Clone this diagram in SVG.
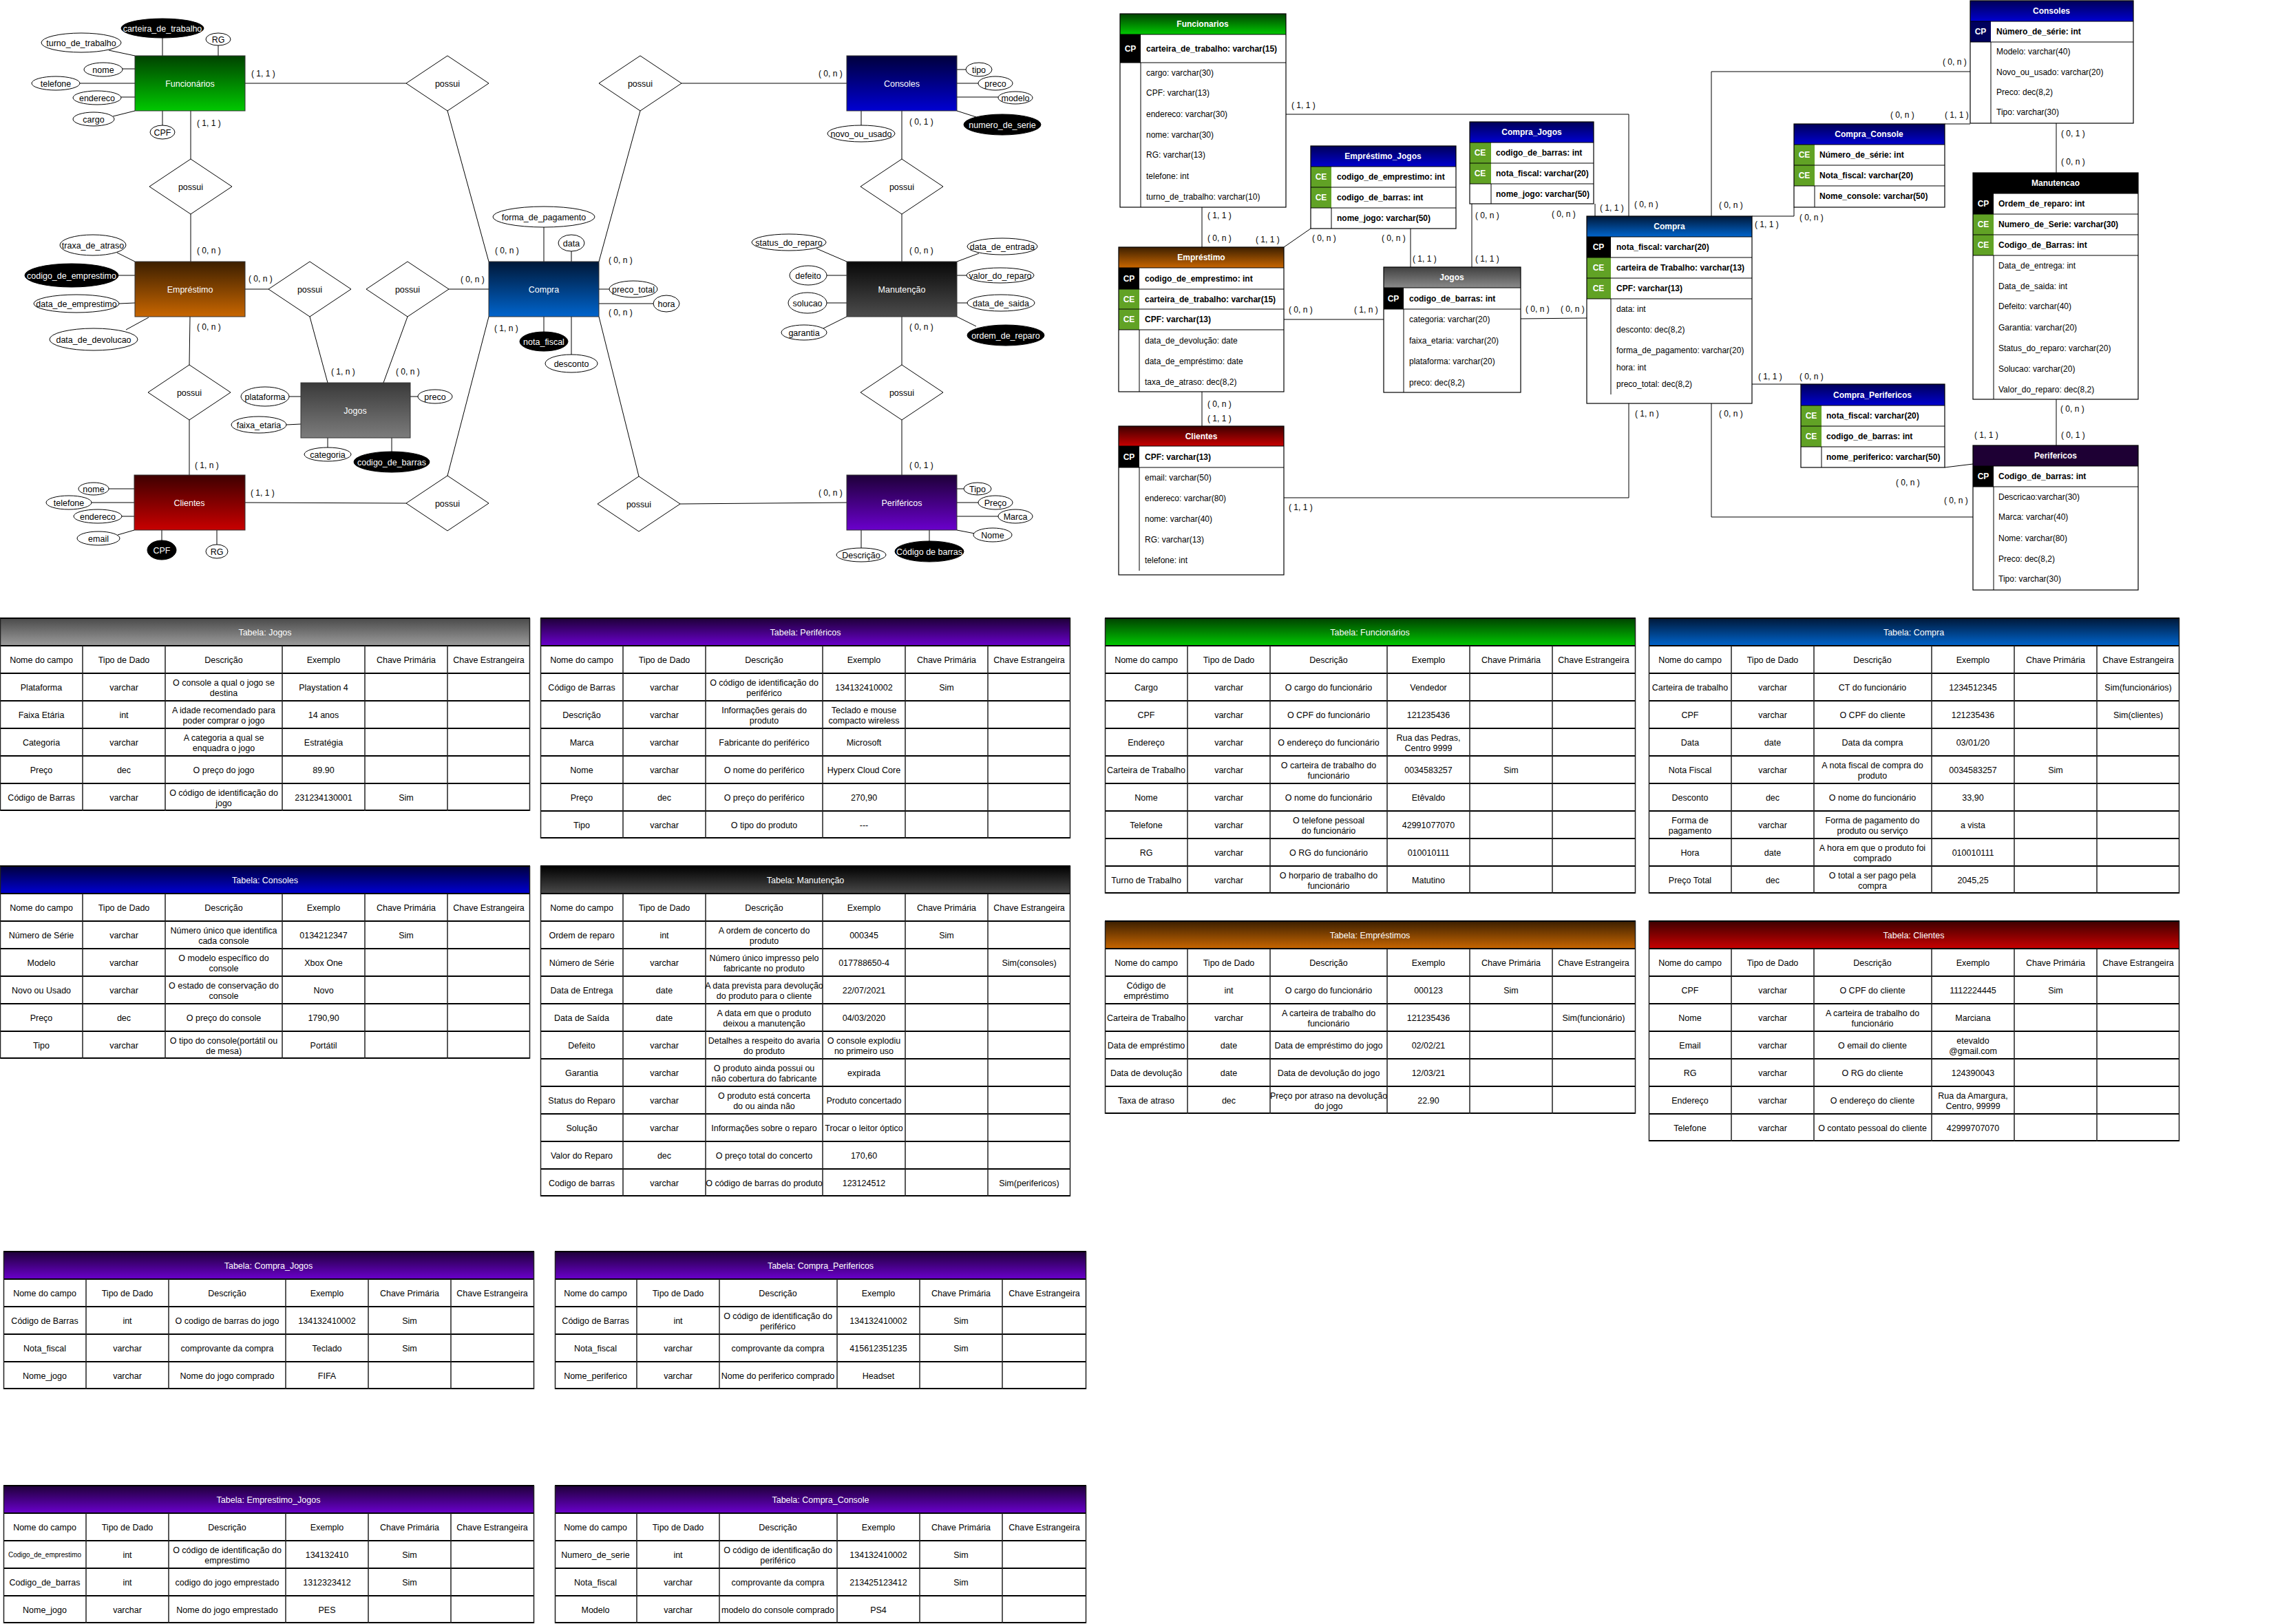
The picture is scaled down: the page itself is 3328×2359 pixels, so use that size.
<svg xmlns="http://www.w3.org/2000/svg" width="3328" height="2359" viewBox="0 0 3328 2359">
<defs>
<linearGradient id="gGreen" x1="0" y1="0" x2="0" y2="1"><stop offset="0" stop-color="#004200"/><stop offset="1" stop-color="#00c800"/></linearGradient>
<linearGradient id="gBrown" x1="0" y1="0" x2="0" y2="1"><stop offset="0" stop-color="#3c1f00"/><stop offset="1" stop-color="#c86600"/></linearGradient>
<linearGradient id="gGray" x1="0" y1="0" x2="0" y2="1"><stop offset="0" stop-color="#3a3a3a"/><stop offset="1" stop-color="#7c7c7c"/></linearGradient>
<linearGradient id="gRed" x1="0" y1="0" x2="0" y2="1"><stop offset="0" stop-color="#3e0000"/><stop offset="1" stop-color="#c80000"/></linearGradient>
<linearGradient id="gCompra" x1="0" y1="0" x2="0" y2="1"><stop offset="0" stop-color="#001838"/><stop offset="1" stop-color="#0064cc"/></linearGradient>
<linearGradient id="gNavy" x1="0" y1="0" x2="0" y2="1"><stop offset="0" stop-color="#00003c"/><stop offset="1" stop-color="#0000d2"/></linearGradient>
<linearGradient id="gBlack" x1="0" y1="0" x2="0" y2="1"><stop offset="0" stop-color="#080808"/><stop offset="1" stop-color="#4c4c4c"/></linearGradient>
<linearGradient id="gPurple" x1="0" y1="0" x2="0" y2="1"><stop offset="0" stop-color="#1e0038"/><stop offset="1" stop-color="#6a00cc"/></linearGradient>
<linearGradient id="hGray" x1="0" y1="0" x2="0" y2="1"><stop offset="0" stop-color="#4a4a4a"/><stop offset="1" stop-color="#9c9c9c"/></linearGradient>
<linearGradient id="hBlack" x1="0" y1="0" x2="0" y2="1"><stop offset="0" stop-color="#000000"/><stop offset="1" stop-color="#4a4a4a"/></linearGradient>
<linearGradient id="sBlue" x1="0" y1="0" x2="0" y2="1"><stop offset="0" stop-color="#000058"/><stop offset="1" stop-color="#0000d0"/></linearGradient>
<linearGradient id="sGray" x1="0" y1="0" x2="0" y2="1"><stop offset="0" stop-color="#404040"/><stop offset="1" stop-color="#8a8a8a"/></linearGradient>
</defs>
<style>
text { font-family: "Liberation Sans", Arial, sans-serif; }
.ent { stroke: #333; stroke-width: 1; }
.et { font-size: 12.5px; fill: #fff; text-anchor: middle; }
.dia { fill: #fff; stroke: #000; stroke-width: 1; }
.at { fill: #fff; stroke: #000; stroke-width: 1; }
.ak { fill: #000; stroke: #000; stroke-width: 1; }
.atx { font-size: 12.5px; fill: #000; text-anchor: middle; }
.aktx { font-size: 12.5px; fill: #fff; text-anchor: middle; }
.ln { stroke: #000; stroke-width: 1; fill: none; }
.card { font-size: 12px; fill: #000; }
.st { font-size: 12px; fill: #000; }
.stb { font-size: 12px; font-weight: bold; fill: #000; }
.sh { font-size: 12px; font-weight: bold; fill: #fff; text-anchor: middle; }
.kc { font-size: 12px; font-weight: bold; fill: #fff; text-anchor: middle; }
.tb { fill: none; stroke: #000; stroke-width: 1.2; }
.tc { font-size: 12.5px; fill: #000; text-anchor: middle; }
.tt { font-size: 12.5px; fill: #fff; text-anchor: middle; }
.hb { stroke: #000; stroke-width: 2; fill: none; }
.vb { stroke: #222; stroke-width: 1.5; fill: none; }
.cp { fill: #000; }
.ce { fill: #61a225; }
</style>
<rect width="3328" height="2359" fill="#fff"/>

<!-- ===== Conceptual model: connectors ===== -->
<g id="er-connectors" class="ln">
<path d="M356 121H590M650 161L710 380M277 161V231M277 311V380M356 420H390M450 460L476 556M652 420H710M592 460L557 556M276 460L275 530M275 610V690M356 730L590 731M650 691L710 460M990 121H1230M930 161L870 380M1310 161V231M1310 311V380M1310 460V530M1310 610V690M988 732L1230 730M928 692L870 460"/>
<!-- attribute links -->
<path d="M236 55V81M317 66V81M158 73L196 81M178 100H196M116 121H196M176 141H196M164 169L196 161M236 161V182"/>
<path d="M170 367L196 380M172 400H196M173 441L196 440M183 479L216 461"/>
<path d="M420 576H437M416 617L437 616M596 576H607M476 636V650M569 636V656"/>
<path d="M158 710H195M133 730H195M177 750H195M171 777L195 770M235 770V785M315 770V791"/>
<path d="M790 330V380M830 365V380M870 420H885M870 441H949M790 460V482M830 460V515"/>
<path d="M1390 101H1403M1390 121H1421M1390 141H1450M1390 161L1418 170M1251 161V182"/>
<path d="M1186 361L1230 380M1201 400H1230M1201 440H1230M1196 477L1230 460M1390 380L1422 368M1390 400H1404M1390 440H1405M1390 460L1418 474"/>
<path d="M1390 710H1400M1390 730H1421M1390 750H1450M1390 770L1416 775M1350 770V786M1251 770V796"/>
</g>

<g id="er-cardinalities" class="card">
<text x="365" y="111">( 1, 1 )</text>
<text x="286" y="183">( 1, 1 )</text>
<text x="286" y="368">( 0, n )</text>
<text x="361" y="409">( 0, n )</text>
<text x="286" y="479">( 0, n )</text>
<text x="481" y="544">( 1, n )</text>
<text x="575" y="544">( 0, n )</text>
<text x="669" y="410">( 0, n )</text>
<text x="283" y="680">( 1, n )</text>
<text x="364" y="720">( 1, 1 )</text>
<text x="719" y="368">( 0, n )</text>
<text x="718" y="481">( 1, n )</text>
<text x="884" y="382">( 0, n )</text>
<text x="884" y="458">( 0, n )</text>
<text x="1189" y="111">( 0, n )</text>
<text x="1321" y="181">( 0, 1 )</text>
<text x="1321" y="368">( 0, n )</text>
<text x="1321" y="479">( 0, n )</text>
<text x="1321" y="680">( 0, 1 )</text>
<text x="1189" y="720">( 0, n )</text>
</g>

<!-- relationships -->
<g id="rel-func-compra"><polygon class="dia" points="590,121 650,81 710,121 650,161"/><text class="atx" x="650" y="126">possui</text></g>
<g id="rel-func-emp"><polygon class="dia" points="217,271 277,231 337,271 277,311"/><text class="atx" x="277" y="276">possui</text></g>
<g id="rel-emp-jogos"><polygon class="dia" points="390,420 450,380 510,420 450,460"/><text class="atx" x="450" y="425">possui</text></g>
<g id="rel-jogos-compra"><polygon class="dia" points="532,420 592,380 652,420 592,460"/><text class="atx" x="592" y="425">possui</text></g>
<g id="rel-emp-clientes"><polygon class="dia" points="215,570 275,530 335,570 275,610"/><text class="atx" x="275" y="575">possui</text></g>
<g id="rel-clientes-compra"><polygon class="dia" points="590,731 650,691 710,731 650,771"/><text class="atx" x="650" y="736">possui</text></g>
<g id="rel-compra-consoles"><polygon class="dia" points="870,121 930,81 990,121 930,161"/><text class="atx" x="930" y="126">possui</text></g>
<g id="rel-consoles-manut"><polygon class="dia" points="1250,271 1310,231 1370,271 1310,311"/><text class="atx" x="1310" y="276">possui</text></g>
<g id="rel-manut-perif"><polygon class="dia" points="1250,570 1310,530 1370,570 1310,610"/><text class="atx" x="1310" y="575">possui</text></g>
<g id="rel-compra-perif"><polygon class="dia" points="868,732 928,692 988,732 928,772"/><text class="atx" x="928" y="737">possui</text></g>

<!-- entities with attributes -->
<g id="ent-funcionarios">
<rect class="ent" x="196" y="81" width="160" height="80" fill="url(#gGreen)"/>
<text class="et" x="276" y="125.5">Funcionários</text>
<ellipse class="ak" cx="236" cy="41" rx="60" ry="14"/><text class="aktx" x="236" y="45.5">carteira_de_trabalho</text>
<ellipse class="at" cx="317" cy="57" rx="18" ry="9"/><text class="atx" x="317" y="61.5">RG</text>
<ellipse class="at" cx="118" cy="62" rx="58" ry="14"/><text class="atx" x="118" y="66.5">turno_de_trabalho</text>
<ellipse class="at" cx="150" cy="101" rx="28" ry="10"/><text class="atx" x="150" y="105.5">nome</text>
<ellipse class="at" cx="81" cy="121" rx="35" ry="10"/><text class="atx" x="81" y="125.5">telefone</text>
<ellipse class="at" cx="141" cy="142" rx="35" ry="10"/><text class="atx" x="141" y="146.5">endereco</text>
<ellipse class="at" cx="136" cy="173" rx="30" ry="10"/><text class="atx" x="136" y="177.5">cargo</text>
<ellipse class="at" cx="236" cy="192" rx="18" ry="10"/><text class="atx" x="236" y="196.5">CPF</text>
</g>

<g id="ent-emprestimo">
<rect class="ent" x="196" y="380" width="160" height="80" fill="url(#gBrown)"/>
<text class="et" x="276" y="424.5">Empréstimo</text>
<ellipse class="at" cx="135" cy="356" rx="48" ry="15"/><text class="atx" x="135" y="360.5">traxa_de_atraso</text>
<ellipse class="ak" cx="104" cy="400" rx="68" ry="17"/><text class="aktx" x="104" y="404.5">codigo_de_emprestimo</text>
<ellipse class="at" cx="111" cy="441" rx="62" ry="13"/><text class="atx" x="111" y="445.5">data_de_emprestimo</text>
<ellipse class="at" cx="136" cy="493" rx="64" ry="16"/><text class="atx" x="136" y="497.5">data_de_devolucao</text>
</g>

<g id="ent-jogos">
<rect class="ent" x="437" y="556" width="159" height="80" fill="url(#gGray)"/>
<text class="et" x="516" y="600.5">Jogos</text>
<ellipse class="at" cx="385" cy="576" rx="35" ry="14"/><text class="atx" x="385" y="580.5">plataforma</text>
<ellipse class="at" cx="376" cy="617" rx="40" ry="12"/><text class="atx" x="376" y="621.5">faixa_etaria</text>
<ellipse class="at" cx="632" cy="576" rx="25" ry="10"/><text class="atx" x="632" y="580.5">preco</text>
<ellipse class="at" cx="476" cy="660" rx="34" ry="10"/><text class="atx" x="476" y="664.5">categoria</text>
<ellipse class="ak" cx="569" cy="671" rx="55" ry="15"/><text class="aktx" x="569" y="675.5">codigo_de_barras</text>
</g>

<g id="ent-clientes">
<rect class="ent" x="195" y="690" width="161" height="80" fill="url(#gRed)"/>
<text class="et" x="275" y="734.5">Clientes</text>
<ellipse class="at" cx="136" cy="710" rx="22" ry="9"/><text class="atx" x="136" y="714.5">nome</text>
<ellipse class="at" cx="100" cy="730" rx="33" ry="10"/><text class="atx" x="100" y="734.5">telefone</text>
<ellipse class="at" cx="142" cy="750" rx="35" ry="10"/><text class="atx" x="142" y="754.5">endereco</text>
<ellipse class="at" cx="143" cy="782" rx="31" ry="10"/><text class="atx" x="143" y="786.5">email</text>
<ellipse class="ak" cx="235" cy="799" rx="21" ry="14"/><text class="aktx" x="235" y="803.5">CPF</text>
<ellipse class="at" cx="315" cy="801" rx="16" ry="10"/><text class="atx" x="315" y="805.5">RG</text>
</g>

<g id="ent-compra">
<rect class="ent" x="710" y="380" width="160" height="80" fill="url(#gCompra)"/>
<text class="et" x="790" y="424.5">Compra</text>
<ellipse class="at" cx="790" cy="315" rx="74" ry="15"/><text class="atx" x="790" y="319.5">forma_de_pagamento</text>
<ellipse class="at" cx="830" cy="353" rx="19" ry="12"/><text class="atx" x="830" y="357.5">data</text>
<ellipse class="at" cx="920" cy="420" rx="35" ry="12"/><text class="atx" x="920" y="424.5">preco_total</text>
<ellipse class="at" cx="968" cy="441" rx="19" ry="12"/><text class="atx" x="968" y="445.5">hora</text>
<ellipse class="ak" cx="790" cy="496" rx="35" ry="14"/><text class="aktx" x="790" y="500.5">nota_fiscal</text>
<ellipse class="at" cx="830" cy="528" rx="38" ry="13"/><text class="atx" x="830" y="532.5">desconto</text>
</g>

<g id="ent-consoles">
<rect class="ent" x="1230" y="81" width="160" height="80" fill="url(#gNavy)"/>
<text class="et" x="1310" y="125.5">Consoles</text>
<ellipse class="at" cx="1422" cy="101" rx="19" ry="10"/><text class="atx" x="1422" y="105.5">tipo</text>
<ellipse class="at" cx="1446" cy="121" rx="25" ry="10"/><text class="atx" x="1446" y="125.5">preco</text>
<ellipse class="at" cx="1475" cy="142" rx="25" ry="9"/><text class="atx" x="1475" y="146.5">modelo</text>
<ellipse class="ak" cx="1456" cy="181" rx="56" ry="15"/><text class="aktx" x="1456" y="185.5">numero_de_serie</text>
<ellipse class="at" cx="1251" cy="194" rx="49" ry="12"/><text class="atx" x="1251" y="198.5">novo_ou_usado</text>
</g>

<g id="ent-manutencao">
<rect class="ent" x="1230" y="380" width="160" height="80" fill="url(#gBlack)"/>
<text class="et" x="1310" y="424.5">Manutenção</text>
<ellipse class="at" cx="1146" cy="352" rx="54" ry="12"/><text class="atx" x="1146" y="356.5">status_do_reparo</text>
<ellipse class="at" cx="1174" cy="400" rx="27" ry="14"/><text class="atx" x="1174" y="404.5">defeito</text>
<ellipse class="at" cx="1173" cy="440" rx="28" ry="15"/><text class="atx" x="1173" y="444.5">solucao</text>
<ellipse class="at" cx="1168" cy="483" rx="33" ry="11"/><text class="atx" x="1168" y="487.5">garantia</text>
<ellipse class="at" cx="1456" cy="358" rx="51" ry="12"/><text class="atx" x="1456" y="362.5">data_de_entrada</text>
<ellipse class="at" cx="1453" cy="400" rx="49" ry="11"/><text class="atx" x="1453" y="404.5">valor_do_reparo</text>
<ellipse class="at" cx="1454" cy="440" rx="49" ry="12"/><text class="atx" x="1454" y="444.5">data_de_saida</text>
<ellipse class="ak" cx="1461" cy="487" rx="56" ry="15"/><text class="aktx" x="1461" y="491.5">ordem_de_reparo</text>
</g>

<g id="ent-perifericos">
<rect class="ent" x="1230" y="690" width="160" height="80" fill="url(#gPurple)"/>
<text class="et" x="1310" y="734.5">Periféricos</text>
<ellipse class="at" cx="1420" cy="710" rx="20" ry="9"/><text class="atx" x="1420" y="714.5">Tipo</text>
<ellipse class="at" cx="1446" cy="730" rx="25" ry="10"/><text class="atx" x="1446" y="734.5">Preço</text>
<ellipse class="at" cx="1475" cy="750" rx="25" ry="10"/><text class="atx" x="1475" y="754.5">Marca</text>
<ellipse class="at" cx="1442" cy="777" rx="28" ry="10"/><text class="atx" x="1442" y="781.5">Nome</text>
<ellipse class="ak" cx="1350" cy="801" rx="50" ry="15"/><text class="aktx" x="1350" y="805.5">Código de barras</text>
<ellipse class="at" cx="1251" cy="806" rx="36" ry="10"/><text class="atx" x="1251" y="810.5">Descrição</text>
</g>

<!-- ===== Relational model: connectors ===== -->
<g id="rel-connectors" class="ln">
<path d="M1868 166H2366V314M1865 723H2366V586M1746 301V359M1746 569V619M1865 359L1904 332M2049 332V388M2138 296V388M2317 296V314M1865 464H2010M2209 463L2305 462M2486 314V104H2862M2545 314H2606V301M2825 180H2862M2987 179V251M2987 580V647M2545 558H2616M2825 679L2866 674M2486 586V751H2866"/>
</g>
<g id="rel-cardinalities" class="card">
<text x="1876" y="157">( 1, 1 )</text>
<text x="1754" y="317">( 1, 1 )</text>
<text x="1754" y="350">( 0, n )</text>
<text x="1824" y="352">( 1, 1 )</text>
<text x="1906" y="350">( 0, n )</text>
<text x="2007" y="350">( 0, n )</text>
<text x="2052" y="380">( 1, 1 )</text>
<text x="2143" y="317">( 0, n )</text>
<text x="2143" y="380">( 1, 1 )</text>
<text x="2254" y="315">( 0, n )</text>
<text x="2324" y="306">( 1, 1 )</text>
<text x="2374" y="301">( 0, n )</text>
<text x="1872" y="454">( 0, n )</text>
<text x="1967" y="454">( 1, n )</text>
<text x="2216" y="453">( 0, n )</text>
<text x="2267" y="453">( 0, n )</text>
<text x="1754" y="591">( 0, n )</text>
<text x="1754" y="612">( 1, 1 )</text>
<text x="1872" y="741">( 1, 1 )</text>
<text x="2375" y="605">( 1, n )</text>
<text x="2497" y="302">( 0, n )</text>
<text x="2822" y="94">( 0, n )</text>
<text x="2746" y="171">( 0, n )</text>
<text x="2825" y="171">( 1, 1 )</text>
<text x="2549" y="330">( 1, 1 )</text>
<text x="2614" y="320">( 0, n )</text>
<text x="2994" y="198">( 0, 1 )</text>
<text x="2994" y="239">( 0, n )</text>
<text x="2554" y="551">( 1, 1 )</text>
<text x="2614" y="551">( 0, n )</text>
<text x="2993" y="598">( 0, n )</text>
<text x="2994" y="636">( 0, 1 )</text>
<text x="2868" y="636">( 1, 1 )</text>
<text x="2754" y="705">( 0, n )</text>
<text x="2497" y="605">( 0, n )</text>
<text x="2824" y="731">( 0, n )</text>
</g>

<g id="rt-funcionarios">
<rect x="1627" y="20" width="241" height="30" fill="url(#gGreen)"/>
<text class="sh" x="1747" y="39">Funcionarios</text>
<rect class="cp" x="1627" y="50" width="30" height="41"/>
<text class="kc" x="1642" y="75">CP</text>
<text class="stb" x="1665" y="75">carteira_de_trabalho: varchar(15)</text>
<rect class="tb" x="1627" y="20" width="241" height="281"/>
<path class="ln" d="M1627 50H1868M1627 91H1868M1657 91V301"/>
<text class="st" x="1665" y="110">cargo: varchar(30)</text>
<text class="st" x="1665" y="139">CPF: varchar(13)</text>
<text class="st" x="1665" y="170">endereco: varchar(30)</text>
<text class="st" x="1665" y="200">nome: varchar(30)</text>
<text class="st" x="1665" y="229">RG: varchar(13)</text>
<text class="st" x="1665" y="260">telefone: int</text>
<text class="st" x="1665" y="290">turno_de_trabalho: varchar(10)</text>
</g>

<g id="rt-emprestimo">
<rect x="1625" y="359" width="240" height="30" fill="url(#gBrown)"/>
<text class="sh" x="1745" y="378">Empréstimo</text>
<rect class="cp" x="1625" y="389" width="30" height="31"/>
<rect class="ce" x="1625" y="420" width="30" height="59"/>
<text class="kc" x="1640" y="409">CP</text>
<text class="kc" x="1640" y="439">CE</text>
<text class="kc" x="1640" y="468">CE</text>
<text class="stb" x="1663" y="409">codigo_de_emprestimo: int</text>
<text class="stb" x="1663" y="439">carteira_de_trabalho: varchar(15)</text>
<text class="stb" x="1663" y="468">CPF: varchar(13)</text>
<rect class="tb" x="1625" y="359" width="240" height="210"/>
<path class="ln" d="M1625 389H1865M1625 420H1865M1625 449H1865M1625 479H1865M1655 479V569"/>
<text class="st" x="1663" y="499">data_de_devolução: date</text>
<text class="st" x="1663" y="529">data_de_empréstimo: date</text>
<text class="st" x="1663" y="559">taxa_de_atraso: dec(8,2)</text>
</g>

<g id="rt-clientes">
<rect x="1625" y="619" width="240" height="29" fill="url(#gRed)"/>
<text class="sh" x="1745" y="638">Clientes</text>
<rect class="cp" x="1625" y="648" width="30" height="31"/>
<text class="kc" x="1640" y="668">CP</text>
<text class="stb" x="1663" y="668">CPF: varchar(13)</text>
<rect class="tb" x="1625" y="619" width="240" height="216"/>
<path class="ln" d="M1625 648H1865M1625 679H1865M1655 679V829"/>
<text class="st" x="1663" y="698">email: varchar(50)</text>
<text class="st" x="1663" y="728">endereco: varchar(80)</text>
<text class="st" x="1663" y="758">nome: varchar(40)</text>
<text class="st" x="1663" y="788">RG: varchar(13)</text>
<text class="st" x="1663" y="818">telefone: int</text>
</g>

<g id="rt-emprestimo-jogos">
<rect x="1904" y="212" width="211" height="30" fill="url(#sBlue)"/>
<text class="sh" x="2009" y="231">Empréstimo_Jogos</text>
<rect class="ce" x="1904" y="242" width="30" height="60"/>
<text class="kc" x="1919" y="261">CE</text>
<text class="kc" x="1919" y="291">CE</text>
<text class="stb" x="1942" y="261">codigo_de_emprestimo: int</text>
<text class="stb" x="1942" y="291">codigo_de_barras: int</text>
<text class="stb" x="1942" y="321">nome_jogo: varchar(50)</text>
<rect class="tb" x="1904" y="212" width="211" height="120"/>
<path class="ln" d="M1904 242H2115M1904 272H2115M1904 302H2115M1934 302V332"/>
</g>

<g id="rt-compra-jogos">
<rect x="2135" y="177" width="180" height="30" fill="url(#sBlue)"/>
<text class="sh" x="2225" y="196">Compra_Jogos</text>
<rect class="ce" x="2135" y="207" width="31" height="60"/>
<text class="kc" x="2150" y="226">CE</text>
<text class="kc" x="2150" y="256">CE</text>
<text class="stb" x="2173" y="226">codigo_de_barras: int</text>
<text class="stb" x="2173" y="256">nota_fiscal: varchar(20)</text>
<text class="stb" x="2173" y="286">nome_jogo: varchar(50)</text>
<rect class="tb" x="2135" y="177" width="180" height="119"/>
<path class="ln" d="M2135 207H2315M2135 237H2315M2135 267H2315M2166 267V296"/>
</g>

<g id="rt-jogos">
<rect x="2010" y="388" width="199" height="30" fill="url(#sGray)"/>
<text class="sh" x="2109" y="407">Jogos</text>
<rect class="cp" x="2010" y="418" width="29" height="31"/>
<text class="kc" x="2024" y="438">CP</text>
<text class="stb" x="2047" y="438">codigo_de_barras: int</text>
<rect class="tb" x="2010" y="388" width="199" height="182"/>
<path class="ln" d="M2010 418H2209M2010 449H2209M2039 449V570"/>
<text class="st" x="2047" y="468">categoria: varchar(20)</text>
<text class="st" x="2047" y="499">faixa_etaria: varchar(20)</text>
<text class="st" x="2047" y="529">plataforma: varchar(20)</text>
<text class="st" x="2047" y="560">preco: dec(8,2)</text>
</g>

<g id="rt-compra">
<rect x="2305" y="314" width="240" height="30" fill="url(#gCompra)"/>
<text class="sh" x="2425" y="333">Compra</text>
<rect class="cp" x="2305" y="344" width="35" height="30"/>
<rect class="ce" x="2305" y="374" width="35" height="60"/>
<text class="kc" x="2322" y="363">CP</text>
<text class="kc" x="2322" y="393">CE</text>
<text class="kc" x="2322" y="423">CE</text>
<text class="stb" x="2348" y="363">nota_fiscal: varchar(20)</text>
<text class="stb" x="2348" y="393">carteira de Trabalho: varchar(13)</text>
<text class="stb" x="2348" y="423">CPF: varchar(13)</text>
<rect class="tb" x="2305" y="314" width="240" height="272"/>
<path class="ln" d="M2305 344H2545M2305 374H2545M2305 404H2545M2305 434H2545M2340 434V573"/>
<text class="st" x="2348" y="453">data: int</text>
<text class="st" x="2348" y="483">desconto:  dec(8,2)</text>
<text class="st" x="2348" y="513">forma_de_pagamento:  varchar(20)</text>
<text class="st" x="2348" y="538">hora: int</text>
<text class="st" x="2348" y="562">preco_total: dec(8,2)</text>
</g>

<g id="rt-consoles">
<rect x="2862" y="1" width="237" height="30" fill="url(#sBlue)"/>
<text class="sh" x="2980" y="20">Consoles</text>
<rect x="2862" y="31" width="30" height="30" fill="#00005c"/>
<text class="kc" x="2877" y="50">CP</text>
<text class="stb" x="2900" y="50">Número_de_série: int</text>
<rect class="tb" x="2862" y="1" width="237" height="178"/>
<path class="ln" d="M2862 31H3099M2862 61H3099M2892 61V179"/>
<text class="st" x="2900" y="79">Modelo: varchar(40)</text>
<text class="st" x="2900" y="109">Novo_ou_usado: varchar(20)</text>
<text class="st" x="2900" y="138">Preco: dec(8,2)</text>
<text class="st" x="2900" y="167">Tipo: varchar(30)</text>
</g>

<g id="rt-compra-console">
<rect x="2606" y="180" width="219" height="30" fill="url(#sBlue)"/>
<text class="sh" x="2715" y="199">Compra_Console</text>
<rect class="ce" x="2606" y="210" width="30" height="60"/>
<text class="kc" x="2621" y="229">CE</text>
<text class="kc" x="2621" y="259">CE</text>
<text class="stb" x="2643" y="229">Número_de_série: int</text>
<text class="stb" x="2643" y="259">Nota_fiscal: varchar(20)</text>
<text class="stb" x="2643" y="289">Nome_console: varchar(50)</text>
<rect class="tb" x="2606" y="180" width="219" height="121"/>
<path class="ln" d="M2606 210H2825M2606 240H2825M2606 270H2825M2636 270V301"/>
</g>

<g id="rt-manutencao">
<rect x="2866" y="251" width="240" height="30" fill="#000"/>
<text class="sh" x="2986" y="270">Manutencao</text>
<rect class="cp" x="2866" y="281" width="30" height="30"/>
<rect class="ce" x="2866" y="311" width="30" height="60"/>
<text class="kc" x="2881" y="300">CP</text>
<text class="kc" x="2881" y="330">CE</text>
<text class="kc" x="2881" y="360">CE</text>
<text class="stb" x="2903" y="300">Ordem_de_reparo: int</text>
<text class="stb" x="2903" y="330">Numero_de_Serie: varchar(30)</text>
<text class="stb" x="2903" y="360">Codigo_de_Barras: int</text>
<rect class="tb" x="2866" y="251" width="240" height="329"/>
<path class="ln" d="M2866 281H3106M2866 311H3106M2866 341H3106M2866 371H3106M2896 371V580"/>
<text class="st" x="2903" y="390">Data_de_entrega: int</text>
<text class="st" x="2903" y="420">Data_de_saida: int</text>
<text class="st" x="2903" y="449">Defeito: varchar(40)</text>
<text class="st" x="2903" y="480">Garantia: varchar(20)</text>
<text class="st" x="2903" y="510">Status_do_reparo: varchar(20)</text>
<text class="st" x="2903" y="540">Solucao: varchar(20)</text>
<text class="st" x="2903" y="570">Valor_do_reparo: dec(8,2)</text>
</g>

<g id="rt-compra-perifericos">
<rect x="2616" y="558" width="209" height="31" fill="url(#sBlue)"/>
<text class="sh" x="2720" y="578">Compra_Perifericos</text>
<rect class="ce" x="2616" y="589" width="30" height="60"/>
<text class="kc" x="2631" y="608">CE</text>
<text class="kc" x="2631" y="638">CE</text>
<text class="stb" x="2653" y="608">nota_fiscal: varchar(20)</text>
<text class="stb" x="2653" y="638">codigo_de_barras: int</text>
<text class="stb" x="2653" y="668">nome_periferico: varchar(50)</text>
<rect class="tb" x="2616" y="558" width="209" height="121"/>
<path class="ln" d="M2616 589H2825M2616 619H2825M2616 649H2825M2646 649V679"/>
</g>

<g id="rt-perifericos">
<rect x="2866" y="647" width="240" height="30" fill="#1e0034"/>
<text class="sh" x="2986" y="666">Perifericos</text>
<rect class="cp" x="2866" y="677" width="30" height="30"/>
<text class="kc" x="2881" y="696">CP</text>
<text class="stb" x="2903" y="696">Codigo_de_barras: int</text>
<rect class="tb" x="2866" y="647" width="240" height="210"/>
<path class="ln" d="M2866 677H3106M2866 707H3106M2896 707V857"/>
<text class="st" x="2903" y="726">Descricao:varchar(30)</text>
<text class="st" x="2903" y="755">Marca: varchar(40)</text>
<text class="st" x="2903" y="786">Nome: varchar(80)</text>
<text class="st" x="2903" y="816">Preco: dec(8,2)</text>
<text class="st" x="2903" y="845">Tipo: varchar(30)</text>
</g>

<!-- ===== Data dictionary tables ===== -->
<g id="tab-jogos">
<rect x="0" y="898" width="770" height="40" fill="url(#hGray)"/>
<text class="tt" x="385" y="922.5">Tabela: Jogos</text>
<path class="hb" d="M0 898H770M0 938H770M0 978H770M0 1018H770M0 1058H770M0 1098H770M0 1138H770M0 1177H770"/>
<path class="vb" d="M0.5 898V1178M120 938V1178M240 938V1178M410 938V1178M530 938V1178M650 938V1178M769.5 898V1178"/>
<text class="tc" x="60" y="962.5">Nome do campo</text><text class="tc" x="180" y="962.5">Tipo de Dado</text><text class="tc" x="325" y="962.5">Descrição</text><text class="tc" x="470" y="962.5">Exemplo</text><text class="tc" x="590" y="962.5">Chave Primária</text><text class="tc" x="710" y="962.5">Chave Estrangeira</text>
<text class="tc" x="60" y="1002.5">Plataforma</text><text class="tc" x="180" y="1002.5">varchar</text><text class="tc" x="325" y="995.5">O console a qual o jogo se<tspan x="325" dy="15">destina</tspan></text><text class="tc" x="470" y="1002.5">Playstation 4</text>
<text class="tc" x="60" y="1042.5">Faixa Etária</text><text class="tc" x="180" y="1042.5">int</text><text class="tc" x="325" y="1035.5">A idade recomendado para<tspan x="325" dy="15">poder comprar o jogo</tspan></text><text class="tc" x="470" y="1042.5">14 anos</text>
<text class="tc" x="60" y="1082.5">Categoria</text><text class="tc" x="180" y="1082.5">varchar</text><text class="tc" x="325" y="1075.5">A categoria a qual se<tspan x="325" dy="15">enquadra o jogo</tspan></text><text class="tc" x="470" y="1082.5">Estratégia</text>
<text class="tc" x="60" y="1122.5">Preço</text><text class="tc" x="180" y="1122.5">dec</text><text class="tc" x="325" y="1122.5">O preço do jogo</text><text class="tc" x="470" y="1122.5">89.90</text>
<text class="tc" x="60" y="1162.5">Código de Barras</text><text class="tc" x="180" y="1162.5">varchar</text><text class="tc" x="325" y="1155.5">O código de identificação do<tspan x="325" dy="15">jogo</tspan></text><text class="tc" x="470" y="1162.5">231234130001</text><text class="tc" x="590" y="1162.5">Sim</text>
</g>

<g id="tab-perifericos">
<rect x="785" y="898" width="770" height="40" fill="url(#gPurple)"/>
<text class="tt" x="1170" y="922.5">Tabela: Periféricos</text>
<path class="hb" d="M785 898H1555M785 938H1555M785 978H1555M785 1018H1555M785 1058H1555M785 1098H1555M785 1138H1555M785 1178H1555M785 1217H1555"/>
<path class="vb" d="M785.5 898V1218M905 938V1218M1025 938V1218M1195 938V1218M1315 938V1218M1435 938V1218M1554.5 898V1218"/>
<text class="tc" x="845" y="962.5">Nome do campo</text><text class="tc" x="965" y="962.5">Tipo de Dado</text><text class="tc" x="1110" y="962.5">Descrição</text><text class="tc" x="1255" y="962.5">Exemplo</text><text class="tc" x="1375" y="962.5">Chave Primária</text><text class="tc" x="1495" y="962.5">Chave Estrangeira</text>
<text class="tc" x="845" y="1002.5">Código de Barras</text><text class="tc" x="965" y="1002.5">varchar</text><text class="tc" x="1110" y="995.5">O código de identificação do<tspan x="1110" dy="15">periférico</tspan></text><text class="tc" x="1255" y="1002.5">134132410002</text><text class="tc" x="1375" y="1002.5">Sim</text>
<text class="tc" x="845" y="1042.5">Descrição</text><text class="tc" x="965" y="1042.5">varchar</text><text class="tc" x="1110" y="1035.5">Informações gerais do<tspan x="1110" dy="15">produto</tspan></text><text class="tc" x="1255" y="1035.5">Teclado e mouse<tspan x="1255" dy="15">compacto wireless</tspan></text>
<text class="tc" x="845" y="1082.5">Marca</text><text class="tc" x="965" y="1082.5">varchar</text><text class="tc" x="1110" y="1082.5">Fabricante do periférico</text><text class="tc" x="1255" y="1082.5">Microsoft</text>
<text class="tc" x="845" y="1122.5">Nome</text><text class="tc" x="965" y="1122.5">varchar</text><text class="tc" x="1110" y="1122.5">O nome do periférico</text><text class="tc" x="1255" y="1122.5">Hyperx Cloud Core</text>
<text class="tc" x="845" y="1162.5">Preço</text><text class="tc" x="965" y="1162.5">dec</text><text class="tc" x="1110" y="1162.5">O preço do periférico</text><text class="tc" x="1255" y="1162.5">270,90</text>
<text class="tc" x="845" y="1202.5">Tipo</text><text class="tc" x="965" y="1202.5">varchar</text><text class="tc" x="1110" y="1202.5">O tipo do produto</text><text class="tc" x="1255" y="1202.5">---</text>
</g>

<g id="tab-funcionarios">
<rect x="1605" y="898" width="771" height="40" fill="url(#gGreen)"/>
<text class="tt" x="1990" y="922.5">Tabela: Funcionários</text>
<path class="hb" d="M1605 898H2376M1605 938H2376M1605 978H2376M1605 1018H2376M1605 1058H2376M1605 1098H2376M1605 1138H2376M1605 1178H2376M1605 1218H2376M1605 1258H2376M1605 1297H2376"/>
<path class="vb" d="M1605.5 898V1298M1725 938V1298M1845 938V1298M2015 938V1298M2135 938V1298M2255 938V1298M2375.5 898V1298"/>
<text class="tc" x="1665" y="962.5">Nome do campo</text><text class="tc" x="1785" y="962.5">Tipo de Dado</text><text class="tc" x="1930" y="962.5">Descrição</text><text class="tc" x="2075" y="962.5">Exemplo</text><text class="tc" x="2195" y="962.5">Chave Primária</text><text class="tc" x="2315" y="962.5">Chave Estrangeira</text>
<text class="tc" x="1665" y="1002.5">Cargo</text><text class="tc" x="1785" y="1002.5">varchar</text><text class="tc" x="1930" y="1002.5">O cargo do funcionário</text><text class="tc" x="2075" y="1002.5">Vendedor</text>
<text class="tc" x="1665" y="1042.5">CPF</text><text class="tc" x="1785" y="1042.5">varchar</text><text class="tc" x="1930" y="1042.5">O CPF do funcionário</text><text class="tc" x="2075" y="1042.5">121235436</text>
<text class="tc" x="1665" y="1082.5">Endereço</text><text class="tc" x="1785" y="1082.5">varchar</text><text class="tc" x="1930" y="1082.5">O endereço do funcionário</text><text class="tc" x="2075" y="1075.5">Rua das Pedras,<tspan x="2075" dy="15">Centro 9999</tspan></text>
<text class="tc" x="1665" y="1122.5">Carteira de Trabalho</text><text class="tc" x="1785" y="1122.5">varchar</text><text class="tc" x="1930" y="1115.5">O carteira de trabalho do<tspan x="1930" dy="15">funcionário</tspan></text><text class="tc" x="2075" y="1122.5">0034583257</text><text class="tc" x="2195" y="1122.5">Sim</text>
<text class="tc" x="1665" y="1162.5">Nome</text><text class="tc" x="1785" y="1162.5">varchar</text><text class="tc" x="1930" y="1162.5">O nome do funcionário</text><text class="tc" x="2075" y="1162.5">Etêvaldo</text>
<text class="tc" x="1665" y="1202.5">Telefone</text><text class="tc" x="1785" y="1202.5">varchar</text><text class="tc" x="1930" y="1195.5">O telefone pessoal<tspan x="1930" dy="15">do funcionário</tspan></text><text class="tc" x="2075" y="1202.5">42991077070</text>
<text class="tc" x="1665" y="1242.5">RG</text><text class="tc" x="1785" y="1242.5">varchar</text><text class="tc" x="1930" y="1242.5">O RG do funcionário</text><text class="tc" x="2075" y="1242.5">010010111</text>
<text class="tc" x="1665" y="1282.5">Turno de Trabalho</text><text class="tc" x="1785" y="1282.5">varchar</text><text class="tc" x="1930" y="1275.5">O horpario de trabalho do<tspan x="1930" dy="15">funcionário</tspan></text><text class="tc" x="2075" y="1282.5">Matutino</text>
</g>

<g id="tab-compra">
<rect x="2395" y="898" width="771" height="40" fill="url(#gCompra)"/>
<text class="tt" x="2780" y="922.5">Tabela: Compra</text>
<path class="hb" d="M2395 898H3166M2395 938H3166M2395 978H3166M2395 1018H3166M2395 1058H3166M2395 1098H3166M2395 1138H3166M2395 1178H3166M2395 1218H3166M2395 1258H3166M2395 1297H3166"/>
<path class="vb" d="M2395.5 898V1298M2515 938V1298M2635 938V1298M2806 938V1298M2926 938V1298M3046 938V1298M3165.5 898V1298"/>
<text class="tc" x="2455" y="962.5">Nome do campo</text><text class="tc" x="2575" y="962.5">Tipo de Dado</text><text class="tc" x="2720" y="962.5">Descrição</text><text class="tc" x="2866" y="962.5">Exemplo</text><text class="tc" x="2986" y="962.5">Chave Primária</text><text class="tc" x="3106" y="962.5">Chave Estrangeira</text>
<text class="tc" x="2455" y="1002.5">Carteira de trabalho</text><text class="tc" x="2575" y="1002.5">varchar</text><text class="tc" x="2720" y="1002.5">CT do funcionário</text><text class="tc" x="2866" y="1002.5">1234512345</text><text class="tc" x="3106" y="1002.5">Sim(funcionários)</text>
<text class="tc" x="2455" y="1042.5">CPF</text><text class="tc" x="2575" y="1042.5">varchar</text><text class="tc" x="2720" y="1042.5">O CPF do cliente</text><text class="tc" x="2866" y="1042.5">121235436</text><text class="tc" x="3106" y="1042.5">Sim(clientes)</text>
<text class="tc" x="2455" y="1082.5">Data</text><text class="tc" x="2575" y="1082.5">date</text><text class="tc" x="2720" y="1082.5">Data da compra</text><text class="tc" x="2866" y="1082.5">03/01/20</text>
<text class="tc" x="2455" y="1122.5">Nota Fiscal</text><text class="tc" x="2575" y="1122.5">varchar</text><text class="tc" x="2720" y="1115.5">A nota fiscal de compra do<tspan x="2720" dy="15">produto</tspan></text><text class="tc" x="2866" y="1122.5">0034583257</text><text class="tc" x="2986" y="1122.5">Sim</text>
<text class="tc" x="2455" y="1162.5">Desconto</text><text class="tc" x="2575" y="1162.5">dec</text><text class="tc" x="2720" y="1162.5">O nome do funcionário</text><text class="tc" x="2866" y="1162.5">33,90</text>
<text class="tc" x="2455" y="1195.5">Forma de<tspan x="2455" dy="15">pagamento</tspan></text><text class="tc" x="2575" y="1202.5">varchar</text><text class="tc" x="2720" y="1195.5">Forma de pagamento do<tspan x="2720" dy="15">produto ou serviço</tspan></text><text class="tc" x="2866" y="1202.5">a vista</text>
<text class="tc" x="2455" y="1242.5">Hora</text><text class="tc" x="2575" y="1242.5">date</text><text class="tc" x="2720" y="1235.5">A hora em que o produto foi<tspan x="2720" dy="15">comprado</tspan></text><text class="tc" x="2866" y="1242.5">010010111</text>
<text class="tc" x="2455" y="1282.5">Preço Total</text><text class="tc" x="2575" y="1282.5">dec</text><text class="tc" x="2720" y="1275.5">O total a ser pago pela<tspan x="2720" dy="15">compra</tspan></text><text class="tc" x="2866" y="1282.5">2045,25</text>
</g>

<g id="tab-consoles">
<rect x="0" y="1258" width="770" height="40" fill="url(#gNavy)"/>
<text class="tt" x="385" y="1282.5">Tabela: Consoles</text>
<path class="hb" d="M0 1258H770M0 1298H770M0 1338H770M0 1378H770M0 1418H770M0 1458H770M0 1498H770M0 1537H770"/>
<path class="vb" d="M0.5 1258V1538M120 1298V1538M240 1298V1538M410 1298V1538M530 1298V1538M650 1298V1538M769.5 1258V1538"/>
<text class="tc" x="60" y="1322.5">Nome do campo</text><text class="tc" x="180" y="1322.5">Tipo de Dado</text><text class="tc" x="325" y="1322.5">Descrição</text><text class="tc" x="470" y="1322.5">Exemplo</text><text class="tc" x="590" y="1322.5">Chave Primária</text><text class="tc" x="710" y="1322.5">Chave Estrangeira</text>
<text class="tc" x="60" y="1362.5">Número de Série</text><text class="tc" x="180" y="1362.5">varchar</text><text class="tc" x="325" y="1355.5">Número único que identifica<tspan x="325" dy="15">cada console</tspan></text><text class="tc" x="470" y="1362.5">0134212347</text><text class="tc" x="590" y="1362.5">Sim</text>
<text class="tc" x="60" y="1402.5">Modelo</text><text class="tc" x="180" y="1402.5">varchar</text><text class="tc" x="325" y="1395.5">O modelo específico do<tspan x="325" dy="15">console</tspan></text><text class="tc" x="470" y="1402.5">Xbox One</text>
<text class="tc" x="60" y="1442.5">Novo ou Usado</text><text class="tc" x="180" y="1442.5">varchar</text><text class="tc" x="325" y="1435.5">O estado de conservação do<tspan x="325" dy="15">console</tspan></text><text class="tc" x="470" y="1442.5">Novo</text>
<text class="tc" x="60" y="1482.5">Preço</text><text class="tc" x="180" y="1482.5">dec</text><text class="tc" x="325" y="1482.5">O preço do console</text><text class="tc" x="470" y="1482.5">1790,90</text>
<text class="tc" x="60" y="1522.5">Tipo</text><text class="tc" x="180" y="1522.5">varchar</text><text class="tc" x="325" y="1515.5">O tipo do console(portátil ou<tspan x="325" dy="15">de mesa)</tspan></text><text class="tc" x="470" y="1522.5">Portátil</text>
</g>

<g id="tab-manutencao">
<rect x="785" y="1258" width="770" height="40" fill="url(#hBlack)"/>
<text class="tt" x="1170" y="1282.5">Tabela: Manutenção</text>
<path class="hb" d="M785 1258H1555M785 1298H1555M785 1338H1555M785 1378H1555M785 1418H1555M785 1458H1555M785 1498H1555M785 1538H1555M785 1578H1555M785 1618H1555M785 1658H1555M785 1698H1555M785 1737H1555"/>
<path class="vb" d="M785.5 1258V1738M905 1298V1738M1025 1298V1738M1195 1298V1738M1315 1298V1738M1435 1298V1738M1554.5 1258V1738"/>
<text class="tc" x="845" y="1322.5">Nome do campo</text><text class="tc" x="965" y="1322.5">Tipo de Dado</text><text class="tc" x="1110" y="1322.5">Descrição</text><text class="tc" x="1255" y="1322.5">Exemplo</text><text class="tc" x="1375" y="1322.5">Chave Primária</text><text class="tc" x="1495" y="1322.5">Chave Estrangeira</text>
<text class="tc" x="845" y="1362.5">Ordem de reparo</text><text class="tc" x="965" y="1362.5">int</text><text class="tc" x="1110" y="1355.5">A ordem de concerto do<tspan x="1110" dy="15">produto</tspan></text><text class="tc" x="1255" y="1362.5">000345</text><text class="tc" x="1375" y="1362.5">Sim</text>
<text class="tc" x="845" y="1402.5">Número de Série</text><text class="tc" x="965" y="1402.5">varchar</text><text class="tc" x="1110" y="1395.5">Número único impresso pelo<tspan x="1110" dy="15">fabricante no produto</tspan></text><text class="tc" x="1255" y="1402.5">017788650-4</text><text class="tc" x="1495" y="1402.5">Sim(consoles)</text>
<text class="tc" x="845" y="1442.5">Data de Entrega</text><text class="tc" x="965" y="1442.5">date</text><text class="tc" x="1110" y="1435.5">A data prevista para devolução<tspan x="1110" dy="15">do produto para o cliente</tspan></text><text class="tc" x="1255" y="1442.5">22/07/2021</text>
<text class="tc" x="845" y="1482.5">Data de Saída</text><text class="tc" x="965" y="1482.5">date</text><text class="tc" x="1110" y="1475.5">A data em que o produto<tspan x="1110" dy="15">deixou a manutenção</tspan></text><text class="tc" x="1255" y="1482.5">04/03/2020</text>
<text class="tc" x="845" y="1522.5">Defeito</text><text class="tc" x="965" y="1522.5">varchar</text><text class="tc" x="1110" y="1515.5">Detalhes a respeito do avaria<tspan x="1110" dy="15">do produto</tspan></text><text class="tc" x="1255" y="1515.5">O console explodiu<tspan x="1255" dy="15">no primeiro uso</tspan></text>
<text class="tc" x="845" y="1562.5">Garantia</text><text class="tc" x="965" y="1562.5">varchar</text><text class="tc" x="1110" y="1555.5">O produto ainda possui ou<tspan x="1110" dy="15">não cobertura do fabricante</tspan></text><text class="tc" x="1255" y="1562.5">expirada</text>
<text class="tc" x="845" y="1602.5">Status do Reparo</text><text class="tc" x="965" y="1602.5">varchar</text><text class="tc" x="1110" y="1595.5">O produto está concerta<tspan x="1110" dy="15">do ou ainda não</tspan></text><text class="tc" x="1255" y="1602.5">Produto concertado</text>
<text class="tc" x="845" y="1642.5">Solução</text><text class="tc" x="965" y="1642.5">varchar</text><text class="tc" x="1110" y="1642.5">Informações sobre o reparo</text><text class="tc" x="1255" y="1642.5">Trocar o leitor óptico</text>
<text class="tc" x="845" y="1682.5">Valor do Reparo</text><text class="tc" x="965" y="1682.5">dec</text><text class="tc" x="1110" y="1682.5">O preço total do concerto</text><text class="tc" x="1255" y="1682.5">170,60</text>
<text class="tc" x="845" y="1722.5">Codigo de barras</text><text class="tc" x="965" y="1722.5">varchar</text><text class="tc" x="1110" y="1722.5">O código de barras do produto</text><text class="tc" x="1255" y="1722.5">123124512</text><text class="tc" x="1495" y="1722.5">Sim(perifericos)</text>
</g>

<g id="tab-emprestimos">
<rect x="1605" y="1338" width="771" height="40" fill="url(#gBrown)"/>
<text class="tt" x="1990" y="1362.5">Tabela: Empréstimos</text>
<path class="hb" d="M1605 1338H2376M1605 1378H2376M1605 1418H2376M1605 1458H2376M1605 1498H2376M1605 1538H2376M1605 1578H2376M1605 1617H2376"/>
<path class="vb" d="M1605.5 1338V1618M1725 1378V1618M1845 1378V1618M2015 1378V1618M2135 1378V1618M2255 1378V1618M2375.5 1338V1618"/>
<text class="tc" x="1665" y="1402.5">Nome do campo</text><text class="tc" x="1785" y="1402.5">Tipo de Dado</text><text class="tc" x="1930" y="1402.5">Descrição</text><text class="tc" x="2075" y="1402.5">Exemplo</text><text class="tc" x="2195" y="1402.5">Chave Primária</text><text class="tc" x="2315" y="1402.5">Chave Estrangeira</text>
<text class="tc" x="1665" y="1435.5">Código de<tspan x="1665" dy="15">empréstimo</tspan></text><text class="tc" x="1785" y="1442.5">int</text><text class="tc" x="1930" y="1442.5">O cargo do funcionário</text><text class="tc" x="2075" y="1442.5">000123</text><text class="tc" x="2195" y="1442.5">Sim</text>
<text class="tc" x="1665" y="1482.5">Carteira de Trabalho</text><text class="tc" x="1785" y="1482.5">varchar</text><text class="tc" x="1930" y="1475.5">A carteira de trabalho do<tspan x="1930" dy="15">funcionário</tspan></text><text class="tc" x="2075" y="1482.5">121235436</text><text class="tc" x="2315" y="1482.5">Sim(funcionário)</text>
<text class="tc" x="1665" y="1522.5">Data de empréstimo</text><text class="tc" x="1785" y="1522.5">date</text><text class="tc" x="1930" y="1522.5">Data de empréstimo do jogo</text><text class="tc" x="2075" y="1522.5">02/02/21</text>
<text class="tc" x="1665" y="1562.5">Data de devolução</text><text class="tc" x="1785" y="1562.5">date</text><text class="tc" x="1930" y="1562.5">Data de devolução do jogo</text><text class="tc" x="2075" y="1562.5">12/03/21</text>
<text class="tc" x="1665" y="1602.5">Taxa de atraso</text><text class="tc" x="1785" y="1602.5">dec</text><text class="tc" x="1930" y="1595.5">Preço por atraso na devolução<tspan x="1930" dy="15">do jogo</tspan></text><text class="tc" x="2075" y="1602.5">22.90</text>
</g>

<g id="tab-clientes">
<rect x="2395" y="1338" width="771" height="40" fill="url(#gRed)"/>
<text class="tt" x="2780" y="1362.5">Tabela: Clientes</text>
<path class="hb" d="M2395 1338H3166M2395 1378H3166M2395 1418H3166M2395 1458H3166M2395 1498H3166M2395 1538H3166M2395 1578H3166M2395 1618H3166M2395 1657H3166"/>
<path class="vb" d="M2395.5 1338V1658M2515 1378V1658M2635 1378V1658M2806 1378V1658M2926 1378V1658M3046 1378V1658M3165.5 1338V1658"/>
<text class="tc" x="2455" y="1402.5">Nome do campo</text><text class="tc" x="2575" y="1402.5">Tipo de Dado</text><text class="tc" x="2720" y="1402.5">Descrição</text><text class="tc" x="2866" y="1402.5">Exemplo</text><text class="tc" x="2986" y="1402.5">Chave Primária</text><text class="tc" x="3106" y="1402.5">Chave Estrangeira</text>
<text class="tc" x="2455" y="1442.5">CPF</text><text class="tc" x="2575" y="1442.5">varchar</text><text class="tc" x="2720" y="1442.5">O CPF do cliente</text><text class="tc" x="2866" y="1442.5">1112224445</text><text class="tc" x="2986" y="1442.5">Sim</text>
<text class="tc" x="2455" y="1482.5">Nome</text><text class="tc" x="2575" y="1482.5">varchar</text><text class="tc" x="2720" y="1475.5">A carteira de trabalho do<tspan x="2720" dy="15">funcionário</tspan></text><text class="tc" x="2866" y="1482.5">Marciana</text>
<text class="tc" x="2455" y="1522.5">Email</text><text class="tc" x="2575" y="1522.5">varchar</text><text class="tc" x="2720" y="1522.5">O email do cliente</text><text class="tc" x="2866" y="1515.5">etevaldo<tspan x="2866" dy="15">@gmail.com</tspan></text>
<text class="tc" x="2455" y="1562.5">RG</text><text class="tc" x="2575" y="1562.5">varchar</text><text class="tc" x="2720" y="1562.5">O RG do cliente</text><text class="tc" x="2866" y="1562.5">124390043</text>
<text class="tc" x="2455" y="1602.5">Endereço</text><text class="tc" x="2575" y="1602.5">varchar</text><text class="tc" x="2720" y="1602.5">O endereço do cliente</text><text class="tc" x="2866" y="1595.5">Rua da Amargura,<tspan x="2866" dy="15">Centro, 99999</tspan></text>
<text class="tc" x="2455" y="1642.5">Telefone</text><text class="tc" x="2575" y="1642.5">varchar</text><text class="tc" x="2720" y="1642.5">O contato pessoal do cliente</text><text class="tc" x="2866" y="1642.5">42999707070</text>
</g>

<g id="tab-compra-jogos">
<rect x="5" y="1818" width="771" height="40" fill="url(#gPurple)"/>
<text class="tt" x="390" y="1842.5">Tabela: Compra_Jogos</text>
<path class="hb" d="M5 1818H776M5 1858H776M5 1898H776M5 1938H776M5 1978H776M5 2017H776"/>
<path class="vb" d="M5.5 1818V2018M125 1858V2018M245 1858V2018M415 1858V2018M535 1858V2018M655 1858V2018M775.5 1818V2018"/>
<text class="tc" x="65" y="1882.5">Nome do campo</text><text class="tc" x="185" y="1882.5">Tipo de Dado</text><text class="tc" x="330" y="1882.5">Descrição</text><text class="tc" x="475" y="1882.5">Exemplo</text><text class="tc" x="595" y="1882.5">Chave Primária</text><text class="tc" x="715" y="1882.5">Chave Estrangeira</text>
<text class="tc" x="65" y="1922.5">Código de Barras</text><text class="tc" x="185" y="1922.5">int</text><text class="tc" x="330" y="1922.5">O codigo de barras do jogo</text><text class="tc" x="475" y="1922.5">134132410002</text><text class="tc" x="595" y="1922.5">Sim</text>
<text class="tc" x="65" y="1962.5">Nota_fiscal</text><text class="tc" x="185" y="1962.5">varchar</text><text class="tc" x="330" y="1962.5">comprovante da compra</text><text class="tc" x="475" y="1962.5">Teclado</text><text class="tc" x="595" y="1962.5">Sim</text>
<text class="tc" x="65" y="2002.5">Nome_jogo</text><text class="tc" x="185" y="2002.5">varchar</text><text class="tc" x="330" y="2002.5">Nome do jogo comprado</text><text class="tc" x="475" y="2002.5">FIFA</text>
</g>

<g id="tab-compra-perifericos">
<rect x="806" y="1818" width="772" height="40" fill="url(#gPurple)"/>
<text class="tt" x="1192" y="1842.5">Tabela: Compra_Perifericos</text>
<path class="hb" d="M806 1818H1578M806 1858H1578M806 1898H1578M806 1938H1578M806 1978H1578M806 2017H1578"/>
<path class="vb" d="M806.5 1818V2018M925 1858V2018M1045 1858V2018M1216 1858V2018M1336 1858V2018M1456 1858V2018M1577.5 1818V2018"/>
<text class="tc" x="865" y="1882.5">Nome do campo</text><text class="tc" x="985" y="1882.5">Tipo de Dado</text><text class="tc" x="1130" y="1882.5">Descrição</text><text class="tc" x="1276" y="1882.5">Exemplo</text><text class="tc" x="1396" y="1882.5">Chave Primária</text><text class="tc" x="1517" y="1882.5">Chave Estrangeira</text>
<text class="tc" x="865" y="1922.5">Código de Barras</text><text class="tc" x="985" y="1922.5">int</text><text class="tc" x="1130" y="1915.5">O código de identificação do<tspan x="1130" dy="15">periférico</tspan></text><text class="tc" x="1276" y="1922.5">134132410002</text><text class="tc" x="1396" y="1922.5">Sim</text>
<text class="tc" x="865" y="1962.5">Nota_fiscal</text><text class="tc" x="985" y="1962.5">varchar</text><text class="tc" x="1130" y="1962.5">comprovante da compra</text><text class="tc" x="1276" y="1962.5">415612351235</text><text class="tc" x="1396" y="1962.5">Sim</text>
<text class="tc" x="865" y="2002.5">Nome_periferico</text><text class="tc" x="985" y="2002.5">varchar</text><text class="tc" x="1130" y="2002.5">Nome do periferico comprado</text><text class="tc" x="1276" y="2002.5">Headset</text>
</g>

<g id="tab-emprestimo-jogos">
<rect x="5" y="2158" width="771" height="40" fill="url(#gPurple)"/>
<text class="tt" x="390" y="2182.5">Tabela: Emprestimo_Jogos</text>
<path class="hb" d="M5 2158H776M5 2198H776M5 2238H776M5 2278H776M5 2318H776M5 2357H776"/>
<path class="vb" d="M5.5 2158V2358M125 2198V2358M245 2198V2358M415 2198V2358M535 2198V2358M655 2198V2358M775.5 2158V2358"/>
<text class="tc" x="65" y="2222.5">Nome do campo</text><text class="tc" x="185" y="2222.5">Tipo de Dado</text><text class="tc" x="330" y="2222.5">Descrição</text><text class="tc" x="475" y="2222.5">Exemplo</text><text class="tc" x="595" y="2222.5">Chave Primária</text><text class="tc" x="715" y="2222.5">Chave Estrangeira</text>
<text class="tc" x="65" y="2261.5" style="font-size:10px">Codigo_de_emprestimo</text><text class="tc" x="185" y="2262.5">int</text><text class="tc" x="330" y="2255.5">O código de identificação do<tspan x="330" dy="15">emprestimo</tspan></text><text class="tc" x="475" y="2262.5">134132410</text><text class="tc" x="595" y="2262.5">Sim</text>
<text class="tc" x="65" y="2302.5">Codigo_de_barras</text><text class="tc" x="185" y="2302.5">int</text><text class="tc" x="330" y="2302.5">codigo do jogo emprestado</text><text class="tc" x="475" y="2302.5">1312323412</text><text class="tc" x="595" y="2302.5">Sim</text>
<text class="tc" x="65" y="2342.5">Nome_jogo</text><text class="tc" x="185" y="2342.5">varchar</text><text class="tc" x="330" y="2342.5">Nome do jogo emprestado</text><text class="tc" x="475" y="2342.5">PES</text>
</g>

<g id="tab-compra-console">
<rect x="806" y="2158" width="772" height="40" fill="url(#gPurple)"/>
<text class="tt" x="1192" y="2182.5">Tabela: Compra_Console</text>
<path class="hb" d="M806 2158H1578M806 2198H1578M806 2238H1578M806 2278H1578M806 2318H1578M806 2357H1578"/>
<path class="vb" d="M806.5 2158V2358M925 2198V2358M1045 2198V2358M1216 2198V2358M1336 2198V2358M1456 2198V2358M1577.5 2158V2358"/>
<text class="tc" x="865" y="2222.5">Nome do campo</text><text class="tc" x="985" y="2222.5">Tipo de Dado</text><text class="tc" x="1130" y="2222.5">Descrição</text><text class="tc" x="1276" y="2222.5">Exemplo</text><text class="tc" x="1396" y="2222.5">Chave Primária</text><text class="tc" x="1517" y="2222.5">Chave Estrangeira</text>
<text class="tc" x="865" y="2262.5">Numero_de_serie</text><text class="tc" x="985" y="2262.5">int</text><text class="tc" x="1130" y="2255.5">O código de identificação do<tspan x="1130" dy="15">periférico</tspan></text><text class="tc" x="1276" y="2262.5">134132410002</text><text class="tc" x="1396" y="2262.5">Sim</text>
<text class="tc" x="865" y="2302.5">Nota_fiscal</text><text class="tc" x="985" y="2302.5">varchar</text><text class="tc" x="1130" y="2302.5">comprovante da compra</text><text class="tc" x="1276" y="2302.5">213425123412</text><text class="tc" x="1396" y="2302.5">Sim</text>
<text class="tc" x="865" y="2342.5">Modelo</text><text class="tc" x="985" y="2342.5">varchar</text><text class="tc" x="1130" y="2342.5">modelo do console comprado</text><text class="tc" x="1276" y="2342.5">PS4</text>
</g>
</svg>
